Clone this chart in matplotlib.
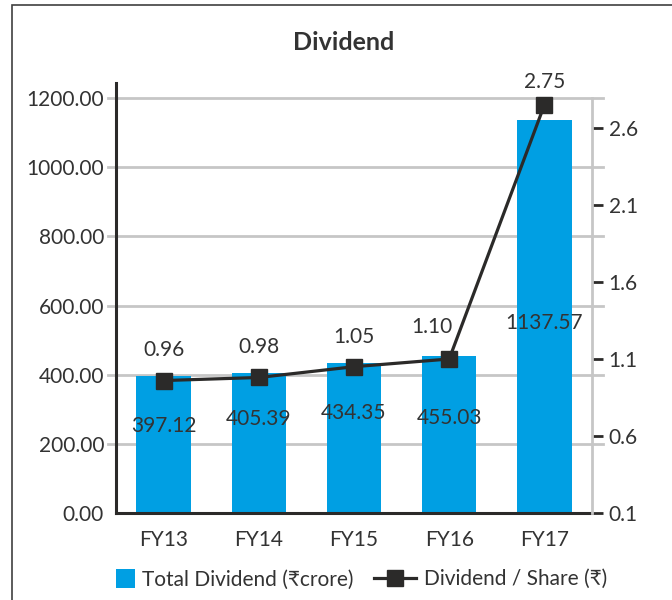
import matplotlib
matplotlib.use("Agg")
import matplotlib.pyplot as plt
from matplotlib.patches import Rectangle, Patch
from matplotlib.lines import Line2D

plt.rcParams['font.family'] = ['Lato', 'DejaVu Sans']

# ---- data ----
categories = ["FY13", "FY14", "FY15", "FY16", "FY17"]
total_dividend = [397.12, 405.39, 434.35, 455.03, 1137.57]
dividend_per_share = [0.96, 0.98, 1.05, 1.10, 2.75]
left_ticks = [0, 200, 400, 600, 800, 1000, 1200]
right_ticks = [0.1, 0.6, 1.1, 1.6, 2.1, 2.6]
legend_labels = ["Total Dividend (₹crore)", "Dividend / Share (₹)"]

# ---- layout (pixel offsets of the bar labels below bar tops, line labels) ----
bar_label_drop_px = [50, 46, 50, 62, 203]
line_label_offset_px = [(0, 31), (0, 30), (0, 30), (-17, 32), (0, 23)]

TEXT = "#333333"
BLUE = "#009FE3"
DARK = "#2B2A29"
GRID = "#C6C6C6"
FS = 15
EM = FS * 100 / 72  # font size in px

W, H = 672, 600
fig = plt.figure(figsize=(W / 100, H / 100), dpi=100)

# outer frame
fig.patches.append(Rectangle((12 / W, -0.05), 1.1, 1 - 5 / H + 0.05,
                             transform=fig.transFigure, fill=False,
                             edgecolor="#404040", linewidth=1.2))

ax = fig.add_axes([116 / W, (H - 513) / H, (592 - 116) / W, (513 - 83) / H])
ax2 = ax.twinx()
ax.set_zorder(ax2.get_zorder() - 1)  # keep line on top
ax2.patch.set_visible(False)

x = list(range(len(categories)))
ax.set_xlim(-0.5, len(categories) - 0.5)
ax.set_ylim(0, (513 - 83) / ((513 - 98) / 1200))
ax2.set_ylim(0.1, 0.1 + (513 - 83) / ((513 - 128) / 2.5))

# gridlines (extend slightly beyond plot area like the reference)
for t in left_ticks[1:]:
    ax.axhline(t, xmin=-8 / 476, xmax=1 + 11 / 476, color=GRID, lw=2.0,
               clip_on=False, zorder=0)

bars = ax.bar(x, total_dividend, width=0.57, color=BLUE, zorder=2)

ax2.plot(x, dividend_per_share, color=DARK, lw=2.3, marker="s",
         markersize=12, markerfacecolor=DARK, markeredgecolor=DARK, zorder=5)

# bar value labels
for xi, v, d in zip(x, total_dividend, bar_label_drop_px):
    ax.annotate(f"{v:.2f}", (xi, v), xytext=(0, -d * 0.72), textcoords="offset points",
                ha="center", va="center", fontsize=FS, color=TEXT, zorder=6)

# line value labels
for xi, v, (dx, dy) in zip(x, dividend_per_share, line_label_offset_px):
    ax2.annotate(f"{v:.2f}", (xi, v), xytext=(dx * 0.72, dy * 0.72), textcoords="offset points",
                 ha="center", va="center", fontsize=FS, color=TEXT, zorder=6)

# axes styling
ax.set_xticks(x)
ax.set_xticklabels(categories, fontsize=FS, color=TEXT)
ax.tick_params(axis="x", length=0, pad=12)
ax.set_yticks(left_ticks)
ax.set_yticklabels([f"{t:.2f}" for t in left_ticks], fontsize=FS, color=TEXT)
ax.tick_params(axis="y", length=0, pad=8.6)

ax2.set_yticks(right_ticks)
ax2.set_yticklabels([f"{t:.1f}" for t in right_ticks], fontsize=FS, color=TEXT)
ax2.tick_params(axis="y", direction="out", length=8, width=2, color=DARK, pad=4)

for a in (ax, ax2):
    a.spines["top"].set_visible(False)
ax2.spines["left"].set_visible(False)
ax2.spines["bottom"].set_visible(False)
ax.spines["right"].set_visible(False)
ax.spines["left"].set_color(DARK)
ax.spines["left"].set_linewidth(2.2)
ax.spines["bottom"].set_color(DARK)
ax.spines["bottom"].set_linewidth(2.2)
ax2.spines["right"].set_color(GRID)
ax2.spines["right"].set_linewidth(2.0)
ax2.spines["right"].set_bounds(0.1, 0.1 + (513 - 98) / ((513 - 128) / 2.5))

fig.text(344 / W, 1 - 43 / H, "Dividend", ha="center", va="center",
         fontsize=18, fontweight="bold", color=TEXT)

# legends (two, placed separately to match handle sizes)
leg1 = fig.legend([Patch(facecolor=BLUE, edgecolor="none")], [legend_labels[0]],
                  loc="center left", bbox_to_anchor=(116 / W, 1 - 579 / H),
                  frameon=False, fontsize=FS, labelcolor=TEXT,
                  handlelength=19 / EM, handleheight=22 / EM,
                  handletextpad=7 / EM, borderpad=0, borderaxespad=0)
leg2 = fig.legend([Line2D([0], [0], color=DARK, lw=2.3, marker="s", markersize=12)],
                  [legend_labels[1]],
                  loc="center left", bbox_to_anchor=(374 / W, 1 - 579 / H),
                  frameon=False, fontsize=FS, labelcolor=TEXT,
                  handlelength=42 / EM, handletextpad=8 / EM,
                  borderpad=0, borderaxespad=0)

fig.savefig("out.png", dpi=100)
